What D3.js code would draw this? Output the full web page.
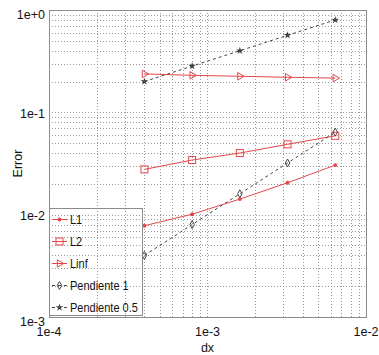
<!DOCTYPE html>
<html>
<head>
<meta charset="utf-8">
<script src="https://cdn.jsdelivr.net/npm/d3@7"></script>
<style>
  html, body { margin: 0; padding: 0; background: #fff; }
  svg { display: block; font-family: "Liberation Sans", Arial, sans-serif; }
</style>
</head>
<body>
<div id="chart"></div>
<script>
// values
const dx = [4e-4, 8e-4, 1.6e-3, 3.2e-3, 6.4e-3];
const errL1 = [0.0078, 0.0101, 0.0142, 0.0205, 0.0305];
const errL2 = [0.0277, 0.0342, 0.040, 0.0487, 0.059];
const errLinf = [0.237, 0.230, 0.225, 0.220, 0.216];
const slope1 = [0.004, 0.008, 0.016, 0.032, 0.064];
const slope05 = [0.2, 0.283, 0.4, 0.566, 0.8];
const xTicks = [1e-4, 1e-3, 1e-2];
const xTickLabels = ["1e-4", "1e-3", "1e-2"];
const yTicks = [1, 1e-1, 1e-2, 1e-3];
const yTickLabels = ["1e+0", "1e-1", "1e-2", "1e-3"];

const W = 379, H = 355;
const m = { top: 10, right: 13, bottom: 38, left: 49 };
const red = "#e4474b", gray = "#444";

const series = [
  { name: "L1", values: errL1, color: red, dash: null, symbol: "dot" },
  { name: "L2", values: errL2, color: red, dash: null, symbol: "square" },
  { name: "Linf", values: errLinf, color: red, dash: null, symbol: "tri" },
  { name: "Pendiente 1", values: slope1, color: gray, dash: "3,3", symbol: "diamond" },
  { name: "Pendiente 0.5", values: slope05, color: gray, dash: "3,3", symbol: "star" }
];

const x = d3.scaleLog().domain([1e-4, 1e-2]).range([m.left, W - m.right]);
const y = d3.scaleLog().domain([1e-3, 1]).range([H - m.bottom, m.top]);

const svg = d3.select("#chart").append("svg")
  .attr("width", W).attr("height", H);

// dotted grid at every decade and sub-decade tick
const minor = (lo, hi) => {
  const out = [];
  for (let e = Math.log10(lo); e < Math.log10(hi); e++)
    for (let k = 1; k < 10; k++) out.push(k * Math.pow(10, e));
  out.push(hi);
  return out;
};
const grid = svg.append("g")
  .attr("stroke", "#9a9a9a").attr("stroke-width", 1).attr("stroke-dasharray", "1,2");
grid.selectAll("line.gx").data(minor(1e-4, 1e-2)).join("line")
  .attr("class", "gx")
  .attr("x1", d => Math.round(x(d)) + 0.5).attr("x2", d => Math.round(x(d)) + 0.5)
  .attr("y1", m.top).attr("y2", H - m.bottom);
grid.selectAll("line.gy").data(minor(1e-3, 1)).join("line")
  .attr("class", "gy")
  .attr("y1", d => Math.round(y(d)) + 0.5).attr("y2", d => Math.round(y(d)) + 0.5)
  .attr("x1", m.left).attr("x2", W - m.right);

// frame
svg.append("rect")
  .attr("x", m.left + 0.5).attr("y", m.top + 0.5)
  .attr("width", W - m.left - m.right).attr("height", H - m.top - m.bottom)
  .attr("fill", "none").attr("stroke", "#8a8a8a");

// tick labels
svg.append("g").selectAll("text").data(xTicks).join("text")
  .attr("x", d => x(d)).attr("y", H - m.bottom + 19)
  .attr("text-anchor", "middle").attr("font-size", 12.5).attr("fill", "#111")
  .text((d, i) => xTickLabels[i]);
svg.append("g").selectAll("text").data(yTicks).join("text")
  .attr("x", m.left - 4).attr("y", d => y(d) + (d === 1 ? 9 : d === 1e-3 ? 9 : 5.5))
  .attr("text-anchor", "end").attr("font-size", 12.5).attr("fill", "#111")
  .text((d, i) => yTickLabels[i]);

svg.append("text").attr("x", (m.left + W - m.right) / 2).attr("y", H - 3)
  .attr("text-anchor", "middle").attr("font-size", 12.5).attr("fill", "#111").text("dx");
svg.append("text")
  .attr("transform", `translate(22,${(m.top + H - m.bottom) / 2}) rotate(-90)`)
  .attr("text-anchor", "middle").attr("font-size", 12.5).attr("fill", "#111").text("Error");

function marker(g, s, cx, cy) {
  if (s.symbol === "dot") {
    g.append("path").attr("d", d3.symbol(d3.symbolCircle, 12)())
      .attr("transform", `translate(${cx},${cy})`).attr("fill", s.color);
  } else if (s.symbol === "square") {
    g.append("rect").attr("x", cx - 3.5).attr("y", cy - 3.5).attr("width", 7).attr("height", 7)
      .attr("fill", "none").attr("stroke", s.color);
  } else if (s.symbol === "tri") {
    g.append("path").attr("d", d3.symbol(d3.symbolTriangle, 24)())
      .attr("transform", `translate(${cx},${cy}) rotate(90)`)
      .attr("fill", "none").attr("stroke", s.color);
  } else if (s.symbol === "diamond") {
    g.append("path").attr("d", d3.symbol(d3.symbolDiamond, 18)())
      .attr("transform", `translate(${cx},${cy})`)
      .attr("fill", "none").attr("stroke", s.color);
  } else {
    g.append("path").attr("d", d3.symbol(d3.symbolStar, 18)())
      .attr("transform", `translate(${cx},${cy})`)
      .attr("fill", s.color);
  }
}

const line = d3.line().x(d => x(d[0])).y(d => y(d[1]));
series.forEach(s => {
  const pts = dx.map((d, i) => [d, s.values[i]]);
  const g = svg.append("g");
  g.append("path").datum(pts).attr("d", line)
    .attr("fill", "none").attr("stroke", s.color).attr("stroke-width", 1)
    .attr("stroke-dasharray", s.dash);
  pts.forEach(p => marker(g, s, x(p[0]), y(p[1])));
});

// legend, transparent box over the grid
const lg = svg.append("g");
lg.append("rect").attr("x", m.left + 0.5).attr("y", 208.5).attr("width", 93).attr("height", 107)
  .attr("fill", "none").attr("stroke", "#8a8a8a");
series.forEach((s, i) => {
  const ly = 219.5 + i * 22;
  lg.append("line").attr("x1", 52).attr("x2", 67).attr("y1", ly).attr("y2", ly)
    .attr("stroke", s.color).attr("stroke-dasharray", s.dash);
  marker(lg, s, 59.5, ly);
  // the reference font is narrow, so squeeze the legend text a bit
  lg.append("text").attr("transform", `translate(70,${ly + 4.5}) scale(0.88,1)`)
    .attr("font-size", 12.5).attr("fill", "#111").text(s.name);
});
</script>
</body>
</html>
